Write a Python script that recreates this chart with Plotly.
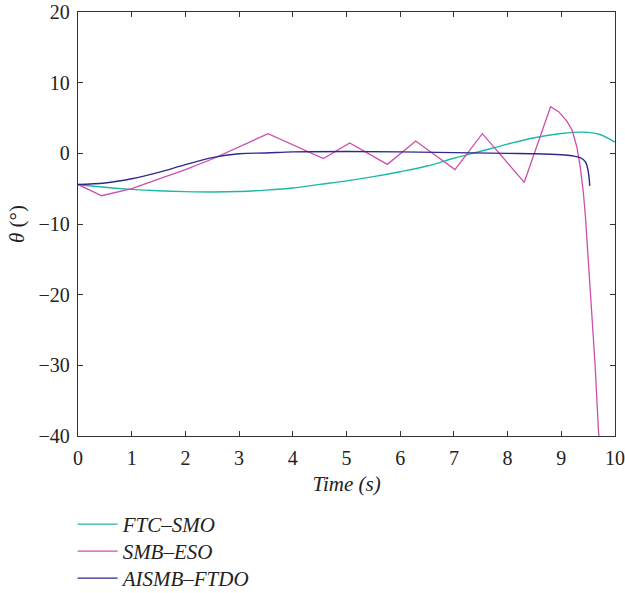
import plotly.graph_objects as go

# FTC–SMO
t_ftc = [0, 0.5, 1, 1.5, 2, 2.5, 3, 3.5, 4, 4.5, 5, 5.5, 6, 6.5, 7, 7.5, 8, 8.5, 9, 9.4, 9.7, 10]
v_ftc = [-4.4, -4.8, -5.1, -5.3, -5.42, -5.47, -5.4, -5.2, -4.9, -4.4, -3.9, -3.3, -2.6, -1.8,
         -0.7, 0.3, 1.3, 2.2, 2.8, 3.0, 2.7, 1.6]

# SMB–ESO
t_smb = [0, 0.44, 1, 1.5, 2, 2.5, 3, 3.54, 4.57, 5.06, 5.76, 6.29, 7.02, 7.53, 8.31, 8.8,
         8.95, 9.1, 9.2, 9.29, 9.35, 9.41, 9.45, 9.5, 9.56, 9.63, 9.69, 9.72]
v_smb = [-4.4, -6.0, -5.0, -3.7, -2.3, -0.8, 0.9, 2.78, -0.75, 1.46, -1.56, 1.74, -2.3, 2.78,
         -4.1, 6.6, 5.9, 4.6, 3.3, 0.9, -1.8, -5.5, -9.0, -14.5, -22.0, -30.0, -39.0, -42.0]

# AISMB–FTDO
t_ais = [0, 0.5, 1, 1.5, 2, 2.5, 3, 3.5, 4, 5, 6, 7, 8, 8.5, 9, 9.2, 9.35, 9.45, 9.5, 9.53]
v_ais = [-4.4, -4.2, -3.6, -2.7, -1.6, -0.6, -0.05, 0.05, 0.2, 0.25, 0.2, 0.1, 0.0, -0.05,
         -0.2, -0.35, -0.6, -1.2, -2.5, -4.6]

names = ["FTC–SMO", "SMB–ESO", "AISMB–FTDO"]
colors = ["#1fb8a6", "#cc4fab", "#2e2a8c"]

FONT = "Liberation Serif"

fig = go.Figure()
fig.add_trace(go.Scatter(x=t_ftc, y=v_ftc, mode="lines", name=f"<i>{names[0]}</i>",
                         line=dict(color=colors[0], width=1.4, shape="spline"), legend="legend"))
fig.add_trace(go.Scatter(x=t_smb, y=v_smb, mode="lines", name=f"<i>{names[1]}</i>",
                         line=dict(color=colors[1], width=1.3), legend="legend2"))
fig.add_trace(go.Scatter(x=t_ais, y=v_ais, mode="lines", name=f"<i>{names[2]}</i>",
                         line=dict(color=colors[2], width=1.4, shape="spline"), legend="legend3"))

axis_common = dict(showgrid=False, zeroline=False, showline=True, mirror="ticks",
                   linecolor="#333", linewidth=1.4, ticks="inside", ticklen=5,
                   tickcolor="#333", tickwidth=1.2, automargin=False,
                   tickfont=dict(family=FONT, size=20, color="#222"))

leg_common = dict(x=-0.01, xanchor="left", yanchor="top", itemwidth=40,
                  font=dict(family=FONT, size=21, color="#222"), bgcolor="rgba(0,0,0,0)")

fig.update_layout(
    width=625, height=593,
    margin=dict(l=78, r=10, t=12, b=157, autoexpand=False),
    paper_bgcolor="white", plot_bgcolor="white",
    font=dict(family=FONT, size=20, color="#222"),
    xaxis=dict(range=[0, 10], dtick=1, **axis_common, ticklabelstandoff=4,
               title=dict(text="<i>Time (s)</i>", font=dict(family=FONT, size=21), standoff=8)),
    yaxis=dict(range=[-40, 20], dtick=10, **axis_common, ticklabelstandoff=3,
               title=dict(text="<i>θ</i> (°)", font=dict(family=FONT, size=21), standoff=8)),
    legend=dict(y=-0.1604, **leg_common),
    legend2=dict(y=-0.2241, **leg_common),
    legend3=dict(y=-0.2877, **leg_common),
    showlegend=True,
)

fig.write_html("out.html")
